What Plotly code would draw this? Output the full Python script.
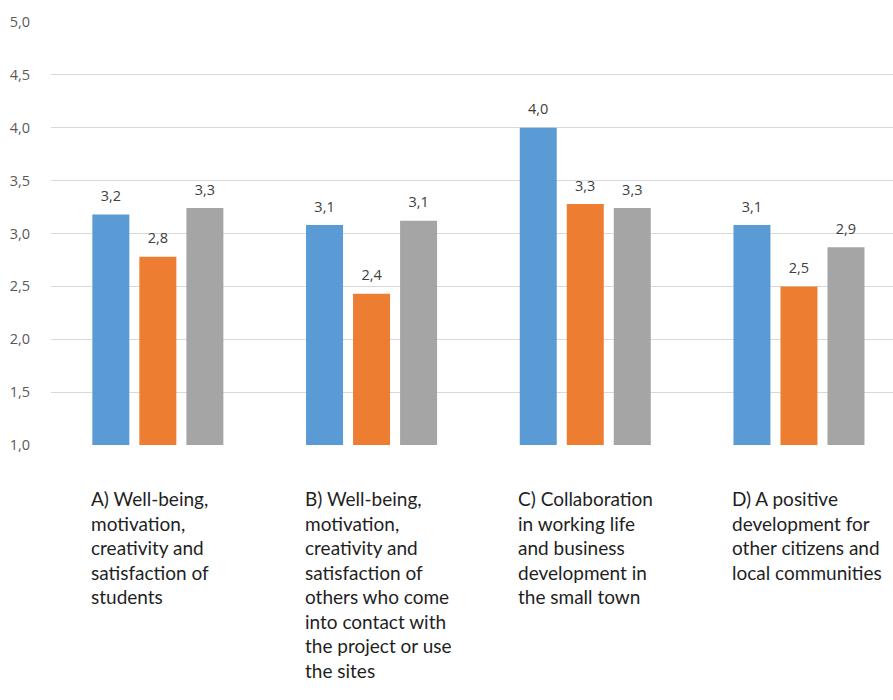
import plotly.graph_objects as go

categories = ["A", "B", "C", "D"]
category_lines = [
    ["A) Well-being,", "motivation,", "creativity and", "satisfaction of", "students"],
    ["B) Well-being,", "motivation,", "creativity and", "satisfaction of",
     "others who come", "into contact with", "the project or use", "the sites"],
    ["C) Collaboration", "in working life", "and business", "development in", "the small town"],
    ["D) A positive", "development for", "other citizens and", "local communities"],
]
series1 = [3.18, 3.08, 4.00, 3.08]
series2 = [2.78, 2.43, 3.28, 2.50]
series3 = [3.24, 3.12, 3.24, 2.87]
labels1 = ["3,2", "3,1", "4,0", "3,1"]
labels2 = ["2,8", "2,4", "3,3", "2,5"]
labels3 = ["3,3", "3,1", "3,3", "2,9"]
y_ticks = [1.0, 1.5, 2.0, 2.5, 3.0, 3.5, 4.0, 4.5, 5.0]
baseline = 1.0

colors = ["#5B9BD5", "#ED7D31", "#A5A5A5"]
all_series = [series1, series2, series3]
all_labels = [labels1, labels2, labels3]

fig = go.Figure()
for vals, col in zip(all_series, colors):
    fig.add_trace(go.Bar(
        x=categories, y=[v - baseline for v in vals], base=[baseline] * len(vals),
        marker=dict(color=col, line=dict(width=0)),
        showlegend=False, hoverinfo="skip",
    ))

# value labels, grouped like the bars
for vals, labs in zip(all_series, all_labels):
    fig.add_trace(go.Scatter(
        x=categories, y=vals, text=labs, mode="markers+text",
        textposition="top center",
        marker=dict(size=14, color="rgba(0,0,0,0)"),
        textfont=dict(family="Open Sans", size=14.5, color="#404040"),
        cliponaxis=False, showlegend=False, hoverinfo="skip",
    ))

for ci, (cat, lines) in enumerate(zip(categories, category_lines)):
    for li, line in enumerate(lines):
        fig.add_annotation(
            x=cat, xref="x", y=0, yref="paper",
            xanchor="left", yanchor="top",
            xshift=-69, yshift=-40 - li * 24.5,
            text=line, showarrow=False, align="left",
            font=dict(family="Lato", size=19, color="#1F1F1F"),
        )

fig.update_layout(
    width=893, height=700,
    margin=dict(l=51, r=0, t=22, b=255),
    paper_bgcolor="white", plot_bgcolor="white",
    barmode="group", bargap=0.34, bargroupgap=0.213,
    scattermode="group", scattergap=0.34,
    separators=",.",
    xaxis=dict(range=[-0.5, 3.44], showticklabels=False, showgrid=False,
               zeroline=False, showline=False),
    yaxis=dict(range=[1, 5], tickvals=y_ticks, tickformat=".1f",
               showgrid=True, gridcolor="#D9D9D9", gridwidth=1,
               zeroline=False, showline=False,
               ticks="outside", ticklen=17, tickcolor="rgba(0,0,0,0)",
               tickfont=dict(family="Open Sans", size=14.5, color="#595959")),
)

fig.write_html("out.html")
